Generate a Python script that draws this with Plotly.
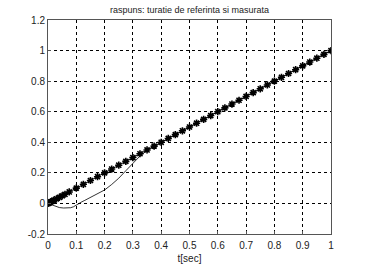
import plotly.graph_objects as go

# reference (setpoint) samples
t_ref = [0, 0.002, 0.005, 0.01, 0.015, 0.02, 0.03, 0.04, 0.05, 0.06, 0.075, 0.1, 0.125, 0.15, 0.175,
         0.2, 0.225, 0.25, 0.275, 0.3, 0.325, 0.35, 0.375, 0.4, 0.425, 0.45, 0.475, 0.5,
         0.525, 0.55, 0.575, 0.6, 0.625, 0.65, 0.675, 0.7, 0.725, 0.75, 0.775, 0.8,
         0.825, 0.85, 0.875, 0.9, 0.925, 0.95, 0.975, 1.0]
y_ref = list(t_ref)

# measured response
t_mea = [0, 0.01, 0.02, 0.03, 0.04, 0.055, 0.066, 0.08, 0.09, 0.1, 0.107, 0.12, 0.13, 0.15, 0.175,
         0.2, 0.225, 0.25, 0.275, 0.3, 0.325, 0.35, 0.375, 0.4, 0.45, 0.5, 0.6, 0.7, 0.8, 0.9, 1.0]
y_mea = [0, -0.008, -0.016, -0.022, -0.027, -0.030, -0.031, -0.028, -0.022, -0.010, 0.0, 0.011, 0.02,
         0.04, 0.062, 0.088, 0.124, 0.165, 0.214, 0.264, 0.31, 0.346, 0.373, 0.398, 0.45, 0.5, 0.6,
         0.7, 0.8, 0.9, 1.0]

x_ticks = [0, 0.1, 0.2, 0.3, 0.4, 0.5, 0.6, 0.7, 0.8, 0.9, 1]
x_labels = ["0", "0.1", "0.2", "0.3", "0.4", "0.5", "0.6", "0.7", "0.8", "0.9", "1"]
y_ticks = [-0.2, 0, 0.2, 0.4, 0.6, 0.8, 1, 1.2]
y_labels = ["-0.2", "0", "0.2", "0.4", "0.6", "0.8", "1", "1.2"]

fig = go.Figure()
fig.add_trace(go.Scatter(x=t_mea, y=y_mea, mode="lines",
                         line=dict(color="black", width=0.8), showlegend=False))
fig.add_trace(go.Scatter(x=t_ref, y=y_ref, mode="lines+markers",
                         line=dict(color="black", width=1),
                         marker=dict(symbol="asterisk-open", size=6,
                                     line=dict(color="black", width=1.6)),
                         showlegend=False))

axis_common = dict(showgrid=True, gridcolor="black", griddash="dot", gridwidth=1,
                   showline=True, linecolor="#555555", linewidth=1, mirror=True,
                   ticks="inside", ticklen=3, tickcolor="#555555", zeroline=False,
                   tickfont=dict(family="Arial, Liberation Sans", size=10, color="#222222"))

fig.update_xaxes(range=[0, 1], tickvals=x_ticks, ticktext=x_labels, ticklabelstandoff=2,
                 title=dict(text="t[sec]", font=dict(family="Arial, Liberation Sans", size=10, color="#222222"),
                            standoff=4),
                 **axis_common)
fig.update_yaxes(range=[-0.2, 1.2], tickvals=y_ticks, ticktext=y_labels, **axis_common)

fig.update_layout(
    width=366, height=274,
    margin=dict(l=48, r=35, t=20, b=30),
    paper_bgcolor="white", plot_bgcolor="white",
    title=dict(text="raspuns: turatie de referinta si masurata",
               font=dict(family="Arial, Liberation Sans", size=9, color="#222222"),
               x=0.518, xanchor="center", y=0.965, yanchor="middle"),
)

fig.write_html("out.html")
